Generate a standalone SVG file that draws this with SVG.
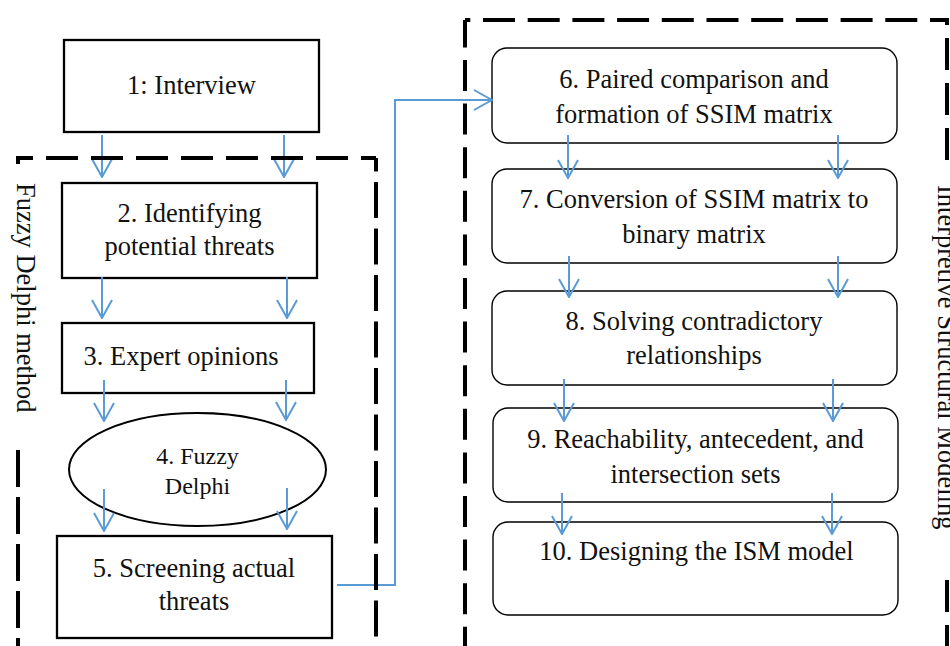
<svg xmlns="http://www.w3.org/2000/svg" width="950" height="646" viewBox="0 0 950 646">
  <style>
    .t { font-family: "Liberation Serif", "Times New Roman", serif; font-size: 26.5px; fill: #111; text-anchor: middle; }
    .t2 { font-family: "Liberation Serif", "Times New Roman", serif; font-size: 24px; fill: #111; text-anchor: middle; }
    .lab { font-family: "Liberation Serif", "Times New Roman", serif; font-size: 26.5px; fill: #111; }
    .box { fill: #fff; stroke: #000; stroke-width: 2.3; }
    .rbox { fill: #fff; stroke: #000; stroke-width: 1.4; }
    .con { fill: none; stroke: #5B9BD5; stroke-width: 2; marker-end: url(#ah); }
    .dash { fill: none; stroke: #000; stroke-width: 4; stroke-linecap: butt; }
  </style>
  <defs>
    <marker id="ah" markerUnits="userSpaceOnUse" viewBox="0 0 20 22" refX="19" refY="11" markerWidth="20" markerHeight="22" orient="auto">
      <path d="M1,1 L19,11 L1,21" fill="none" stroke="#5B9BD5" stroke-width="2"/>
    </marker>
  </defs>
  <rect width="950" height="646" fill="#fff"/>

  <g id="n1">
    <rect class="box" x="64" y="40" width="255" height="92"/>
    <text class="t" x="191.5" y="94">1: Interview</text>
  </g>
  <g id="n2">
    <rect class="box" x="62" y="183" width="255" height="95"/>
    <text class="t" x="189.5" y="222">2. Identifying</text>
    <text class="t" x="189.5" y="255">potential threats</text>
  </g>
  <g id="n3">
    <rect class="box" x="62" y="323" width="252" height="70"/>
    <text class="t" x="181" y="365">3. Expert opinions</text>
  </g>
  <g id="n4">
    <ellipse fill="#fff" stroke="#000" stroke-width="2" cx="197.5" cy="469.5" rx="128.5" ry="56.5"/>
    <text class="t2" x="197.5" y="464">4. Fuzzy</text>
    <text class="t2" x="197.5" y="494">Delphi</text>
  </g>
  <g id="n5">
    <rect class="box" x="57" y="536" width="275" height="102"/>
    <text class="t" x="194" y="577">5. Screening actual</text>
    <text class="t" x="194" y="610">threats</text>
  </g>

  <g id="n6">
    <rect class="rbox" x="492" y="48" width="405" height="95" rx="15"/>
    <text class="t" x="694" y="88">6. Paired comparison and</text>
    <text class="t" x="694" y="123">formation of SSIM matrix</text>
  </g>
  <g id="n7">
    <rect class="rbox" x="492" y="169" width="405" height="94" rx="15"/>
    <text class="t" x="694" y="208">7. Conversion of SSIM matrix to</text>
    <text class="t" x="694" y="243">binary matrix</text>
  </g>
  <g id="n8">
    <rect class="rbox" x="492" y="291" width="405" height="94" rx="15"/>
    <text class="t" x="694" y="330">8. Solving contradictory</text>
    <text class="t" x="694" y="364">relationships</text>
  </g>
  <g id="n9">
    <rect class="rbox" x="493" y="408" width="405" height="94" rx="15"/>
    <text class="t" x="695.5" y="448">9. Reachability, antecedent, and</text>
    <text class="t" x="695.5" y="483">intersection sets</text>
  </g>
  <g id="n10">
    <rect class="rbox" x="493" y="522" width="405" height="93" rx="15"/>
    <text class="t" x="696.5" y="560">10. Designing the ISM model</text>
  </g>

  <g id="connectors">
    <line class="con" x1="102" y1="135" x2="102" y2="177"/>
    <line class="con" x1="284" y1="135" x2="284" y2="177"/>
    <line class="con" x1="102" y1="277" x2="102" y2="318"/>
    <line class="con" x1="287" y1="277" x2="287" y2="318"/>
    <line class="con" x1="104" y1="380" x2="104" y2="421"/>
    <line class="con" x1="286" y1="380" x2="286" y2="420"/>
    <line class="con" x1="104" y1="489" x2="104" y2="531"/>
    <line class="con" x1="287" y1="488" x2="287" y2="529"/>
    <path class="con" d="M337,585 H395 V100 H492"/>
    <line class="con" x1="568" y1="135" x2="568" y2="178"/>
    <line class="con" x1="838" y1="135" x2="838" y2="178"/>
    <line class="con" x1="569" y1="256" x2="569" y2="297"/>
    <line class="con" x1="838" y1="256" x2="838" y2="297"/>
    <line class="con" x1="564" y1="379" x2="564" y2="421"/>
    <line class="con" x1="833" y1="379" x2="833" y2="421"/>
    <line class="con" x1="562" y1="493" x2="562" y2="534"/>
    <line class="con" x1="832" y1="493" x2="832" y2="534"/>
  </g>

  <g id="fuzzy-delphi-frame">
    <line class="dash" x1="18" y1="158" x2="376" y2="158" stroke-dasharray="32 13" stroke-dashoffset="17"/>
    <line class="dash" x1="376" y1="158" x2="376" y2="646" stroke-dasharray="36 10.5" stroke-dashoffset="22.5"/>
    <line class="dash" x1="18" y1="156" x2="18" y2="164"/>
    <line class="dash" x1="18" y1="450" x2="18" y2="646" stroke-dasharray="37 10"/>
    <text class="lab" transform="translate(17,183) rotate(90)">Fuzzy Delphi method</text>
  </g>

  <g id="ism-frame">
    <line class="dash" x1="465" y1="20" x2="947" y2="20" stroke-dasharray="32 12.7" stroke-dashoffset="26.7"/>
    <line class="dash" x1="465" y1="20" x2="465" y2="646" stroke-dasharray="31 12.6" stroke-dashoffset="3.6"/>
    <line class="dash" x1="947" y1="18" x2="947" y2="165" stroke-dasharray="32 13" stroke-dashoffset="25"/>
    <line class="dash" x1="947" y1="580" x2="947" y2="646" stroke-dasharray="32 13"/>
    <text class="lab" transform="translate(937.5,185) rotate(90)">Interpretive Structural Modeling</text>
  </g>
</svg>
